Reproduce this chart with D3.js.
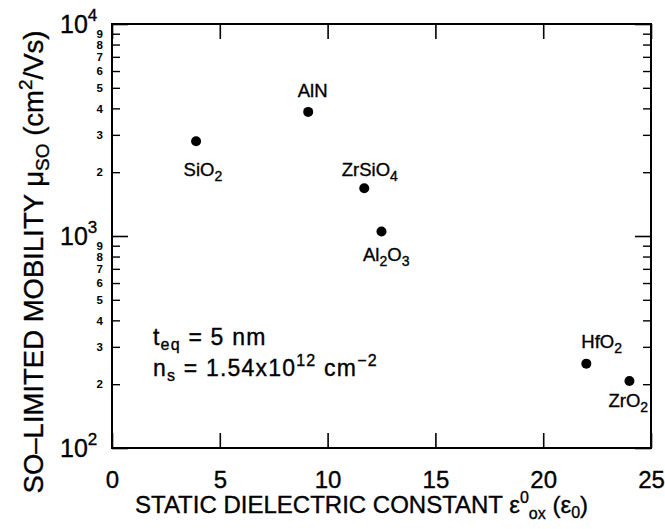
<!DOCTYPE html>
<html>
<head>
<meta charset="utf-8">
<script src="https://cdn.jsdelivr.net/npm/d3@7"></script>
<style>
  html, body { margin: 0; padding: 0; background: #fff; }
  svg { display: block; }
  text { font-family: "Liberation Sans", Arial, Helvetica, sans-serif; fill: #000;
         stroke: #000; stroke-width: 0.35px; }
</style>
</head>
<body>
<svg id="chart" width="665" height="529"></svg>
<script>
// Gate dielectrics: static permittivity vs. remote-phonon (SO) limited mobility
const materials    = ["SiO2", "AlN", "ZrSiO4", "Al2O3", "HfO2", "ZrO2"];
const permittivity = [3.9, 9.1, 11.7, 12.5, 22.0, 24.0];
const mobility     = [2800, 3850, 1680, 1050, 250, 207];

const xTicks      = [0, 5, 10, 15, 20, 25];
const yMajorTicks = [100, 1000, 10000];
const yMinorTicks = [200, 300, 400, 500, 600, 700, 800, 900,
                     2000, 3000, 4000, 5000, 6000, 7000, 8000, 9000];

// label placement relative to each marker (text start, baseline)
const labelOffset = {
  "SiO2":   [-12.5, 35],
  "AlN":    [-10.5, -15],
  "ZrSiO4": [-22.5, -12.5],
  "Al2O3":  [-18.5, 29],
  "HfO2":   [-5, -16],
  "ZrO2":   [-21, 26]
};

const W = 665, H = 529;
const m = { left: 112, right: 14, top: 24, bottom: 81 };
const svg = d3.select("#chart");

const x = d3.scaleLinear().domain([0, 25]).range([m.left, W - m.right]);
const y = d3.scaleLog().domain([100, 10000]).range([H - m.bottom, m.top]);

const g = svg.append("g");

// ---- axes (ticks point inward) ----
function strip(sel) { sel.select(".domain").remove(); }

const xAxisBottom = g.append("g").attr("transform", `translate(0,${y(100)})`)
  .call(d3.axisBottom(x).tickValues(xTicks).tickSizeInner(-15).tickSizeOuter(0)
        .tickFormat(d3.format("d")));
strip(xAxisBottom);
xAxisBottom.selectAll("line").attr("stroke", "#000").attr("stroke-width", 1.6);
xAxisBottom.selectAll("text").attr("dy", null).attr("y", 40)
  .style("font-size", "24px");

const xAxisTop = g.append("g").attr("transform", `translate(0,${y(10000)})`)
  .call(d3.axisTop(x).tickValues(xTicks).tickSizeInner(-15).tickSizeOuter(0)
        .tickFormat(""));
strip(xAxisTop);
xAxisTop.selectAll("line").attr("stroke", "#000").attr("stroke-width", 1.6);

// left: major and minor ticks
const leftMajor = g.append("g").attr("transform", `translate(${x(0)},0)`)
  .call(d3.axisLeft(y).tickValues(yMajorTicks).tickSizeInner(-16).tickSizeOuter(0)
        .tickFormat(""));
strip(leftMajor);
leftMajor.selectAll("line").attr("stroke", "#000").attr("stroke-width", 1.6);

const leftMinor = g.append("g").attr("transform", `translate(${x(0)},0)`)
  .call(d3.axisLeft(y).tickValues(yMinorTicks).tickSizeInner(-8).tickSizeOuter(0)
        .tickPadding(9).tickFormat(d => String(d / Math.pow(10, Math.floor(Math.log10(d) + 1e-9)))));
strip(leftMinor);
leftMinor.selectAll("line").attr("stroke", "#000").attr("stroke-width", 1.4);
leftMinor.selectAll("text")
  .style("font-size", "11.5px").style("font-weight", "bold").style("stroke-width", "0");

// right: mirrored ticks, no labels
const rightMajor = g.append("g").attr("transform", `translate(${x(25)},0)`)
  .call(d3.axisRight(y).tickValues(yMajorTicks).tickSizeInner(-16).tickSizeOuter(0)
        .tickFormat(""));
strip(rightMajor);
rightMajor.selectAll("line").attr("stroke", "#000").attr("stroke-width", 1.6);
const rightMinor = g.append("g").attr("transform", `translate(${x(25)},0)`)
  .call(d3.axisRight(y).tickValues(yMinorTicks).tickSizeInner(-8).tickSizeOuter(0)
        .tickFormat(""));
strip(rightMinor);
rightMinor.selectAll("line").attr("stroke", "#000").attr("stroke-width", 1.4);

// major y labels as powers of ten
const majorLab = g.append("g").selectAll("text").data(yMajorTicks).join("text")
  .attr("x", 60).attr("y", d => y(d) + 9)
  .style("font-size", "25px");
majorLab.append("tspan").text("10");
majorLab.append("tspan").attr("dy", -12).style("font-size", "17px")
  .text(d => String(Math.round(Math.log10(d))));

// frame
g.append("rect")
  .attr("x", x(0)).attr("y", y(10000))
  .attr("width", x(25) - x(0)).attr("height", y(100) - y(10000))
  .attr("fill", "none").attr("stroke", "#000").attr("stroke-width", 2);

// ---- markers ----
const pts = materials.map((name, i) => ({ name, e: permittivity[i], mu: mobility[i] }));

g.append("g").selectAll("circle").data(pts).join("circle")
  .attr("cx", d => x(d.e)).attr("cy", d => y(d.mu)).attr("r", 5)
  .attr("fill", "#000");

// chemical formula labels with subscripted digits
const labels = g.append("g").selectAll("text").data(pts).join("text")
  .attr("x", d => x(d.e) + labelOffset[d.name][0])
  .attr("y", d => y(d.mu) + labelOffset[d.name][1])
  .style("font-size", "18.5px");
labels.each(function(d) {
  const t = d3.select(this);
  const parts = d.name.split(/(\d+)/).filter(s => s.length);
  let shifted = false;
  parts.forEach(p => {
    const isSub = /^\d+$/.test(p);
    const ts = t.append("tspan").text(p);
    if (isSub && !shifted) { ts.attr("dy", 5).style("font-size", "14px"); shifted = true; }
    else if (isSub) { ts.style("font-size", "14px"); }
    else if (shifted) { ts.attr("dy", -5); shifted = false; }
  });
});

// ---- annotation ----
const ann1 = g.append("text").attr("x", 153).attr("y", 345)
  .style("font-size", "23px").style("letter-spacing", "1.2px");
ann1.append("tspan").text("t");
ann1.append("tspan").attr("dy", 5).style("font-size", "16px").text("eq");
ann1.append("tspan").attr("dy", -5).text(" = 5 nm");

const ann2 = g.append("text").attr("x", 153).attr("y", 376)
  .style("font-size", "23px").style("letter-spacing", "1.2px");
ann2.append("tspan").text("n");
ann2.append("tspan").attr("dy", 5).style("font-size", "16px").text("s");
ann2.append("tspan").attr("dy", -5).text(" = 1.54x10");
ann2.append("tspan").attr("dy", -10).style("font-size", "16px").text("12");
ann2.append("tspan").attr("dy", 10).text(" cm");
ann2.append("tspan").attr("dy", -10).style("font-size", "16px").text("\u22122");

// ---- axis titles ----
const xt = svg.append("text").attr("x", 135).attr("y", 513).style("font-size", "24px");
xt.append("tspan").text("STATIC DIELECTRIC CONSTANT \u03b5");
xt.append("tspan").attr("dy", -10).style("font-size", "16px").text("0");
xt.append("tspan").attr("dy", 16).style("font-size", "16px").text("ox");
xt.append("tspan").attr("dy", -6).text(" (\u03b5");
xt.append("tspan").attr("dy", 5).style("font-size", "16px").text("0");
xt.append("tspan").attr("dy", -5).text(")");

const yt = svg.append("text")
  .attr("transform", "translate(43,262) rotate(-90)")
  .attr("text-anchor", "middle").style("font-size", "27.5px");
yt.append("tspan").text("SO\u2013LIMITED MOBILITY \u03bc");
yt.append("tspan").attr("dy", 6).style("font-size", "19px").text("SO");
yt.append("tspan").attr("dy", -6).text(" (cm");
yt.append("tspan").attr("dy", -11).style("font-size", "19px").text("2");
yt.append("tspan").attr("dy", 11).text("/Vs)");
</script>
</body>
</html>
